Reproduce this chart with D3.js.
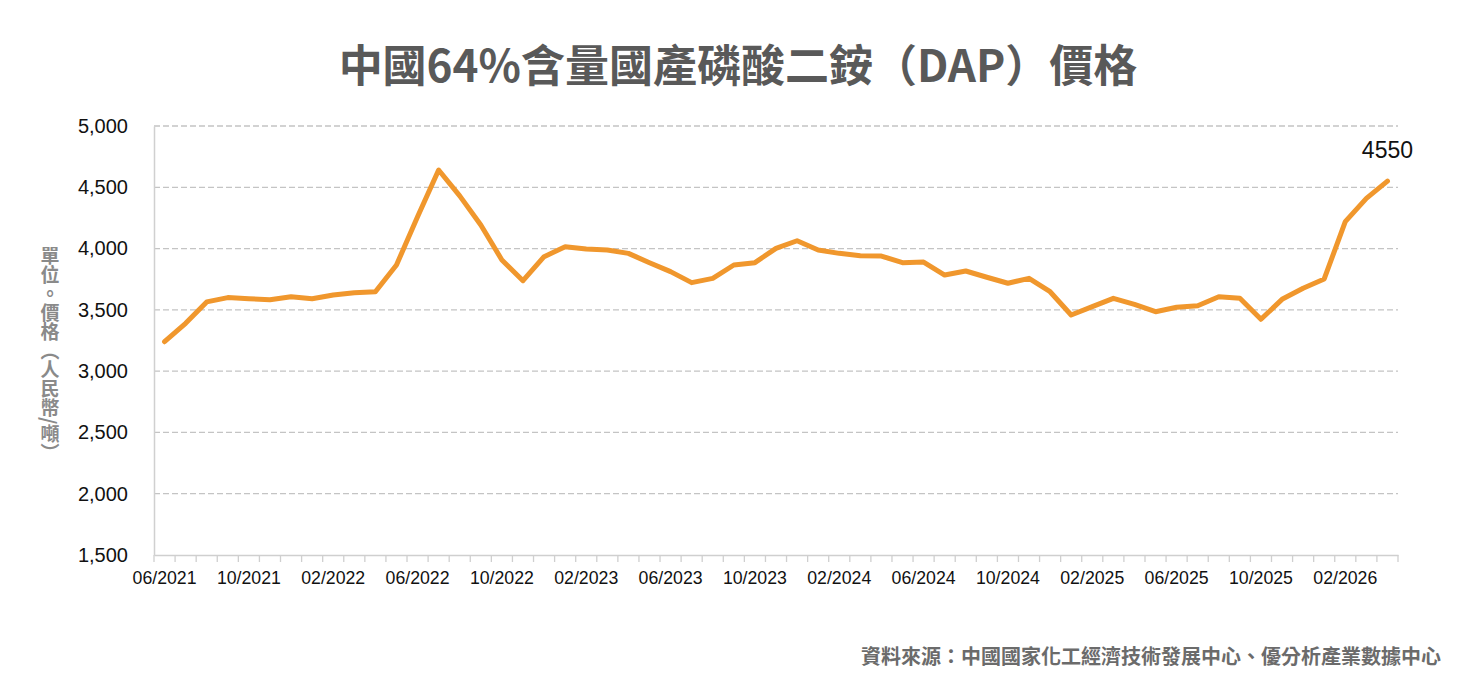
<!DOCTYPE html>
<html>
<head>
<meta charset="utf-8">
<script src="https://cdn.jsdelivr.net/npm/d3@7.9.0/dist/d3.min.js"></script>
<style>
  body { margin: 0; background: #fff; }
  svg { display: block; }
</style>
</head>
<body>
<div id="chart"></div>
<script>
// monthly categories, 06/2021 - 04/2026
const months = [
  '06/2021', '07/2021', '08/2021', '09/2021', '10/2021', '11/2021', '12/2021',
  '01/2022', '02/2022', '03/2022', '04/2022', '05/2022', '06/2022', '07/2022', '08/2022', '09/2022', '10/2022', '11/2022', '12/2022',
  '01/2023', '02/2023', '03/2023', '04/2023', '05/2023', '06/2023', '07/2023', '08/2023', '09/2023', '10/2023', '11/2023', '12/2023',
  '01/2024', '02/2024', '03/2024', '04/2024', '05/2024', '06/2024', '07/2024', '08/2024', '09/2024', '10/2024', '11/2024', '12/2024',
  '01/2025', '02/2025', '03/2025', '04/2025', '05/2025', '06/2025', '07/2025', '08/2025', '09/2025', '10/2025', '11/2025', '12/2025',
  '01/2026', '02/2026', '03/2026', '04/2026'
];

// DAP price (RMB / ton)
const prices = [
  3240, 3390, 3565, 3600, 3590, 3583, 3607,
  3590, 3621, 3640, 3648, 3866, 4260, 4641, 4430, 4192, 3907, 3738, 3934,
  4015, 3996, 3988, 3961, 3885, 3812, 3722, 3757, 3866, 3885, 4002, 4064,
  3988, 3961, 3942, 3939, 3885, 3890, 3784, 3817, 3766, 3717, 3757, 3648,
  3458, 3526, 3594, 3545, 3485, 3521, 3534, 3607, 3594, 3423, 3586, 3676,
  3752, 4220, 4410, 4550
];

const xTickLabels = ['06/2021', '10/2021', '02/2022', '06/2022', '10/2022', '02/2023', '06/2023',
  '10/2023', '02/2024', '06/2024', '10/2024', '02/2025', '06/2025', '10/2025', '02/2026'];
const yTicks = [1500, 2000, 2500, 3000, 3500, 4000, 4500, 5000];

const title = '中國64%含量國產磷酸二銨（DAP）價格';
const yTitle = '單位。價格（人民幣/噸）';
const source = '資料來源：中國國家化工經濟技術發展中心、優分析產業數據中心';

const width = 1462, height = 694;
const margin = { top: 126, right: 64, bottom: 139, left: 154 };

const svg = d3.select('#chart').append('svg')
  .attr('width', width)
  .attr('height', height);

const x = d3.scaleBand()
  .domain(months)
  .range([margin.left, width - margin.right])
  .padding(0);

const y = d3.scaleLinear()
  .domain([1500, 5000])
  .range([height - margin.bottom, margin.top]);

const cx = d => x(d) + x.bandwidth() / 2;

// title
svg.append('text')
  .attr('x', 738)
  .attr('y', 82)
  .attr('text-anchor', 'middle')
  .attr('font-family', '"Noto Sans CJK TC", "Noto Sans", sans-serif')
  .attr('font-weight', 700)
  .attr('font-size', 44)
  .attr('fill', '#595959')
  .text(title);

// gridlines
svg.append('g')
  .selectAll('line')
  .data(yTicks.filter(t => t > 1500))
  .join('line')
  .attr('x1', margin.left)
  .attr('x2', width - margin.right)
  .attr('y1', d => y(d))
  .attr('y2', d => y(d))
  .attr('stroke', '#c4c4c4')
  .attr('stroke-width', 1.3)
  .attr('stroke-dasharray', '6,3');

// y axis
const yAxis = svg.append('g')
  .attr('transform', `translate(${margin.left},0)`)
  .call(d3.axisLeft(y).tickValues(yTicks).tickSize(0).tickPadding(26).tickFormat(d3.format(',')));
yAxis.select('.domain').attr('stroke', '#d0d0d0').attr('stroke-width', 1.5);
yAxis.selectAll('text')
  .attr('font-family', '"Liberation Sans", Arial, sans-serif')
  .attr('font-size', 20)
  .attr('fill', '#111');

// x axis labels
const xAxis = svg.append('g')
  .attr('transform', `translate(0,${y(1500)})`)
  .call(d3.axisBottom(x).tickValues(xTickLabels).tickSize(0).tickPadding(16));
xAxis.select('.domain').attr('stroke', '#cfcfcf').attr('stroke-width', 1.5);
xAxis.selectAll('text')
  .attr('font-family', '"Liberation Sans", Arial, sans-serif')
  .attr('font-size', 19)
  .attr('fill', '#111')
  .attr('textLength', 64)
  .attr('lengthAdjust', 'spacingAndGlyphs');

// x tick marks at band boundaries
svg.append('g')
  .selectAll('line')
  .data(months.map(m => x(m)).concat([x.range()[1]]))
  .join('line')
  .attr('x1', d => d)
  .attr('x2', d => d)
  .attr('y1', y(1500))
  .attr('y2', y(1500) + 7)
  .attr('stroke', '#cfcfcf')
  .attr('stroke-width', 1.3);

// y axis title (vertical)
svg.append('text')
  .attr('x', 50)
  .attr('y', 246)
  .attr('font-family', '"Noto Sans CJK TC", sans-serif')
  .attr('font-weight', 700)
  .attr('font-size', 19)
  .attr('fill', '#8a8a8a')
  .style('writing-mode', 'vertical-rl')
  .text(yTitle);

// line
const line = d3.line()
  .x((d, i) => cx(months[i]))
  .y(d => y(d));

svg.append('path')
  .datum(prices)
  .attr('fill', 'none')
  .attr('stroke', '#F0972D')
  .attr('stroke-width', 5)
  .attr('stroke-linejoin', 'round')
  .attr('stroke-linecap', 'round')
  .attr('d', line);

// last value label
const last = prices.length - 1;
svg.append('text')
  .attr('x', cx(months[last]))
  .attr('y', y(prices[last]) - 23)
  .attr('text-anchor', 'middle')
  .attr('font-family', '"Liberation Sans", Arial, sans-serif')
  .attr('font-size', 23)
  .attr('fill', '#111')
  .text(prices[last]);

// source
svg.append('text')
  .attr('x', 1441)
  .attr('y', 664)
  .attr('text-anchor', 'end')
  .attr('font-family', '"Noto Sans CJK TC", sans-serif')
  .attr('font-weight', 700)
  .attr('font-size', 20)
  .attr('fill', '#6b6b6b')
  .text(source);
</script>
</body>
</html>
